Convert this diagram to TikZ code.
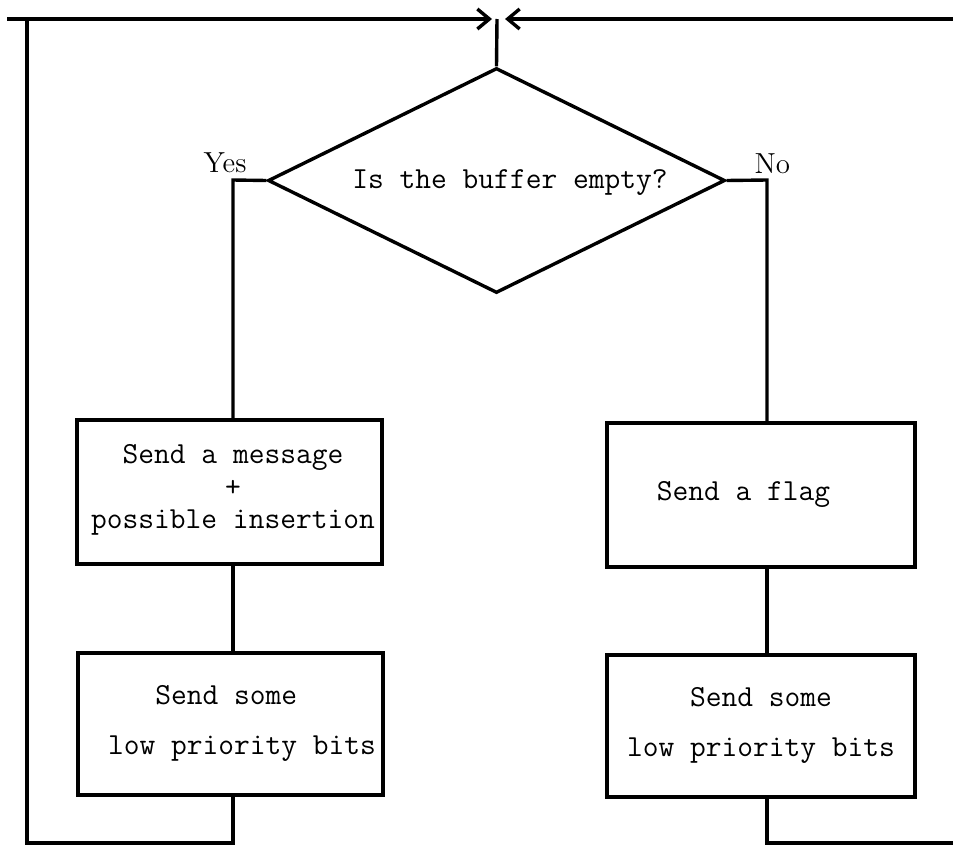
\documentclass[tikz,border=0pt]{standalone}
\usepackage{fontspec}
\usetikzlibrary{shapes.geometric,arrows.meta}
\newcommand{\boxfont}{\fontsize{15.3}{16.25}\selectfont\ttfamily}
\newcommand{\widefont}{\fontsize{15.3}{25}\selectfont\ttfamily}
\newcommand{\tagfont}{\fontsize{14.5}{16}\selectfont\rmfamily}

\begin{document}
\begin{tikzpicture}[x=0.5pt,y=-0.5pt,line width=1.7pt,
    flowbox/.style={draw,rectangle,inner sep=0pt},
    test/.style={draw,diamond,aspect=2,inner sep=0pt,minimum width=228.5pt,minimum height=112.5pt},
    boxtext/.style={font=\boxfont,inner sep=0pt},
    branch/.style={font=\tagfont,inner sep=0pt,anchor=base west},
    feed/.style={-{Straight Barb[length=6pt,width=10pt]}}]
  \useasboundingbox (0,0) rectangle (953,846);

  % the test
  \node[test] (dec) at (496.5,180.5) {};
  \node[boxtext,anchor=base] (dectxt) at (510,188) {Is the buffer empty?};
  \node[branch] (yes) at (202,172) {Yes};
  \node[branch] (no) at (753,173) {No};

  % the two branches
  \node[flowbox,minimum width=152.5pt,minimum height=72pt] (msg) at (229.5,492) {};
  \node[flowbox,minimum width=152.5pt,minimum height=71pt] (lowA) at (230.5,724) {};
  \node[flowbox,minimum width=154pt,minimum height=72pt] (flag) at (761,495) {};
  \node[flowbox,minimum width=154pt,minimum height=71pt] (lowB) at (761,726) {};

  \node[boxtext,align=center] (msgtxt) at (233,490) {Send a message\\+\\possible insertion};
  \node[boxtext,align=left,font=\widefont] (lowAtxt) at (242,723.5) {\phantom{xxx}Send some\\low priority bits};
  \node[boxtext,anchor=base] (flagtxt) at (743.5,500) {Send a flag};
  \node[boxtext,align=left,font=\widefont] (lowBtxt) at (761,725) {\phantom{xxxx}Send some\\low priority bits};

  % points for the flow lines
  \coordinate (yescol) at (233,180);
  \coordinate (nocol) at (767,180);
  \coordinate (stub) at (7,19);
  \coordinate (corner) at (27,19);
  \coordinate (floor) at (27,843);
  \coordinate (meet) at (497,19);
  \coordinate (edgeR) at (953,19);
  \coordinate (floorR) at (953,843);

  \draw (meet) -- (dec.north);
  \draw (dec.west) -- (yescol) -- (yescol |- msg.north);
  \draw (dec.east) -- (nocol) -- (nocol |- flag.north);
  \draw (yescol |- msg.south) -- (yescol |- lowA.north);
  \draw (nocol |- flag.south) -- (nocol |- lowB.north);

  % loop back to the test
  \draw[feed] (yescol |- lowA.south) |- (floor) -- (corner) -- ([xshift=-2.5pt]meet);
  \draw (stub) -- (corner);
  \draw (nocol |- lowB.south) |- (floorR);
  \draw[feed] (edgeR) -- ([xshift=4pt]meet);
\end{tikzpicture}
\end{document}
